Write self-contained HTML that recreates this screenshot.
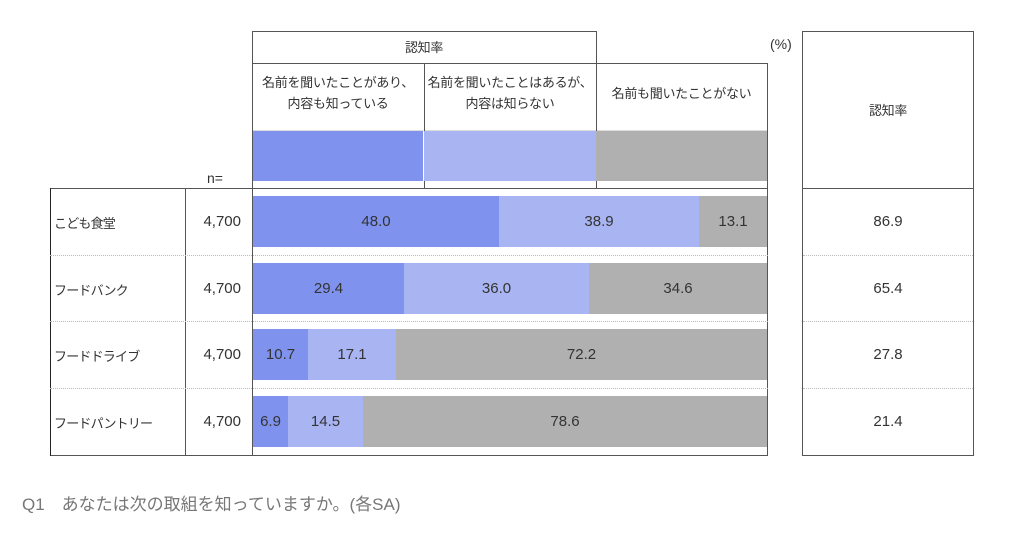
<!DOCTYPE html>
<html><head><meta charset="utf-8"><style>
body{margin:0;width:1024px;height:535px;background:#fff;position:relative;overflow:hidden;font-family:"Liberation Sans","Noto Sans CJK JP",sans-serif;color:#333}
div{position:absolute;box-sizing:border-box}
.h{height:1px;background:#555}
.v{width:1px;background:#555}
.d{height:0;border-top:1px dotted #bbb}
.t{font-size:13px;text-align:center;line-height:21px;white-space:nowrap;letter-spacing:-0.3px}
.b{height:51px;display:flex;align-items:center;justify-content:center;font-size:15px;color:#333}
.c1{background:#7f93ee}.c2{background:#a8b5f2}.c3{background:#b0b0b0}
.lab{font-size:13px;left:54px;letter-spacing:-0.8px;white-space:nowrap}
.n{font-size:15px;left:185px;width:56px;text-align:right}
</style></head><body>
<div class="h" style="left:252px;top:31px;width:345px"></div>
<div class="h" style="left:252px;top:63px;width:516px"></div>
<div class="h" style="left:252px;top:130px;width:516px;background:#ddd"></div>
<div class="v" style="left:252px;top:31px;height:425px"></div>
<div class="v" style="left:424px;top:63px;height:125px"></div>
<div class="v" style="left:596px;top:31px;height:157px"></div>
<div class="v" style="left:767px;top:63px;height:125px"></div>
<div class="t" style="left:252px;top:37px;width:344px">認知率</div>
<div class="t" style="left:252px;top:72px;width:172px">名前を聞いたことがあり、<br>内容も知っている</div>
<div class="t" style="left:424px;top:72px;width:172px">名前を聞いたことはあるが、<br>内容は知らない</div>
<div class="t" style="left:596px;top:83px;width:171px">名前も聞いたことがない</div>
<div class="c1" style="left:253px;top:131px;width:170px;height:50px"></div>
<div class="c2" style="left:424px;top:131px;width:172px;height:50px"></div>
<div class="c3" style="left:596px;top:131px;width:171px;height:50px"></div>
<div style="left:207px;top:170px;font-size:14px">n=</div>
<div style="left:770px;top:36px;font-size:14px">(%)</div>
<div style="left:802px;top:31px;width:172px;height:425px;border:1px solid #555"></div>
<div class="h" style="left:802px;top:188px;width:172px"></div>
<div class="t" style="left:802px;top:100px;width:172px">認知率</div>
<div class="h" style="left:50px;top:188px;width:718px"></div>
<div class="h" style="left:50px;top:455px;width:718px"></div>
<div class="v" style="left:50px;top:188px;height:268px;background:#222"></div>
<div class="v" style="left:185px;top:188px;height:268px"></div>
<div class="v" style="left:767px;top:188px;height:268px;background:#555"></div>
<div class="d" style="left:50px;top:255px;width:718px"></div>
<div class="d" style="left:50px;top:321px;width:718px"></div>
<div class="d" style="left:50px;top:388px;width:718px"></div>
<div class="d" style="left:803px;top:255px;width:170px"></div>
<div class="d" style="left:803px;top:321px;width:170px"></div>
<div class="d" style="left:803px;top:388px;width:170px"></div>

<div class="lab" style="top:213px">こども食堂</div>
<div class="lab" style="top:280px">フードバンク</div>
<div class="lab" style="top:346px">フードドライブ</div>
<div class="lab" style="top:413px">フードパントリー</div>
<div class="n" style="top:213px">4,700</div>
<div class="n" style="top:280px">4,700</div>
<div class="n" style="top:346px">4,700</div>
<div class="n" style="top:413px">4,700</div>

<div class="b c1" style="left:253px;top:196px;width:246px">48.0</div>
<div class="b c2" style="left:499px;top:196px;width:200px">38.9</div>
<div class="b c3" style="left:699px;top:196px;width:68px">13.1</div>

<div class="b c1" style="left:253px;top:263px;width:151px">29.4</div>
<div class="b c2" style="left:404px;top:263px;width:185px">36.0</div>
<div class="b c3" style="left:589px;top:263px;width:178px">34.6</div>

<div class="b c1" style="left:253px;top:329px;width:55px">10.7</div>
<div class="b c2" style="left:308px;top:329px;width:88px">17.1</div>
<div class="b c3" style="left:396px;top:329px;width:371px">72.2</div>

<div class="b c1" style="left:253px;top:396px;width:35px">6.9</div>
<div class="b c2" style="left:288px;top:396px;width:75px">14.5</div>
<div class="b c3" style="left:363px;top:396px;width:404px">78.6</div>

<div style="left:802px;top:213px;width:172px;text-align:center;font-size:15px">86.9</div>
<div style="left:802px;top:280px;width:172px;text-align:center;font-size:15px">65.4</div>
<div style="left:802px;top:346px;width:172px;text-align:center;font-size:15px">27.8</div>
<div style="left:802px;top:413px;width:172px;text-align:center;font-size:15px">21.4</div>

<div style="left:22px;top:490px;font-size:17px;color:#777;white-space:nowrap">Q1　あなたは次の取組を知っていますか。(各SA)</div>
</body></html>
